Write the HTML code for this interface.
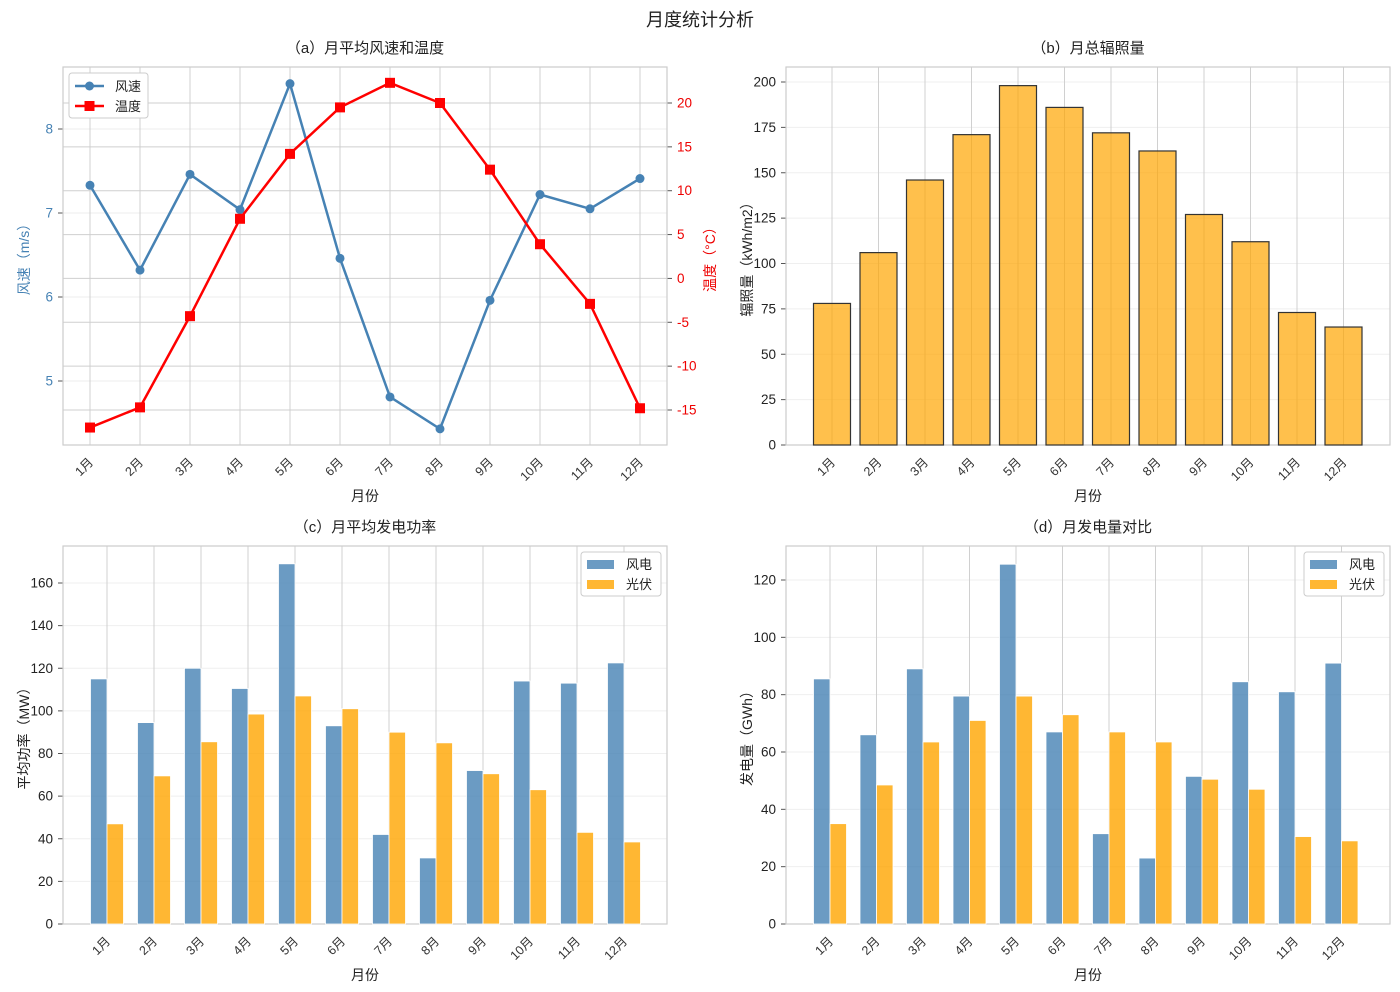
<!DOCTYPE html>
<html><head><meta charset="utf-8"><style>
body{margin:0;background:#fff}
svg{display:block;font-family:"Liberation Sans","Noto Sans CJK SC",sans-serif}
</style></head><body>
<svg id="c" width="1400" height="992" viewBox="0 0 1400 992">
<text x="700" y="26" text-anchor="middle" font-size="18" fill="#222">月度统计分析</text>
</svg>
<script>
const months=['1月','2月','3月','4月','5月','6月','7月','8月','9月','10月','11月','12月'];
const windSpeed=[7.33,6.32,7.46,7.04,8.54,6.46,4.81,4.43,5.96,7.22,7.05,7.41];
const temperature=[-17.0,-14.7,-4.3,6.8,14.2,19.5,22.3,20.0,12.4,3.9,-2.9,-14.8];
const irradiance=[78,106,146,171,198,186,172,162,127,112,73,65];
const windPower=[115,94.5,120,110.5,169,93,42,31,72,114,113,122.5];
const solarPower=[47,69.5,85.5,98.5,107,101,90,85,70.5,63,43,38.5];
const windEnergy=[85.5,66,89,79.5,125.5,67,31.5,23,51.5,84.5,81,91];
const solarEnergy=[35,48.5,63.5,71,79.5,73,67,63.5,50.5,47,30.5,29];
const windTicks=[5,6,7,8];
const tempTicks=[-15,-10,-5,0,5,10,15,20];
const irrTicks=[0,25,50,75,100,125,150,175,200];
const powTicks=[0,20,40,60,80,100,120,140,160];
const engTicks=[0,20,40,60,80,100,120];

const svg=document.getElementById('c');
const NS='http://www.w3.org/2000/svg';
function el(tag,attrs,parent,text){const e=document.createElementNS(NS,tag);for(const k in attrs)e.setAttribute(k,attrs[k]);if(text!==undefined)e.textContent=text;(parent||svg).appendChild(e);return e;}
function linScale(d0,d1,r0,r1){return v=>r0+(v-d0)/(d1-d0)*(r1-r0);}

function panel(p){
  const g=el('g',{});
  
  
  el('rect',{x:p.x0,y:p.y0,width:p.x1-p.x0,height:p.y1-p.y0,fill:'#fff'},g);
  const t=el('text',{x:(p.x0+p.x1)/2,y:p.y0-14,'text-anchor':'middle','font-size':15,fill:'#222'},g,p.title);
  
  
  return g;
}
function xAxis(g,p,xs){
  months.forEach((m,i)=>{
    const x=xs(i);
    el('line',{x1:x,x2:x,y1:p.y0,y2:p.y1,stroke:'#d0d0d0','stroke-width':1},g);
  });
  months.forEach((m,i)=>{
    const x=xs(i);
    const t=el('text',{transform:`translate(${x+4},${p.y1+18}) rotate(-45)`,'text-anchor':'end','font-size':12.5,fill:'#333'},g,m);
    
    
  });
  const xl=el('text',{x:(p.x0+p.x1)/2,y:p.y1+56,'text-anchor':'middle','font-size':14,fill:'#222'},g,'月份');
  
  
}
function yAxis(g,p,ys,ticks,label,color,right,grid){
  ticks.forEach(v=>{
    const y=ys(v);
    if(grid) el('line',{x1:p.x0,x2:p.x1,y1:y,y2:y,stroke:grid,'stroke-width':1},g);
    const tx=right?p.x1:p.x0;
    el('line',{x1:tx,x2:right?tx+5:tx-5,y1:y,y2:y,stroke:'#555'},g);
    const t=el('text',{x:right?tx+10:tx-10,y:y+4.5,'text-anchor':right?'start':'end','font-size':13.5,fill:color},g,String(v));
    
    
  });
  const lx=right?p.x1+48:p.x0-34;
  const yl=el('text',{transform:`translate(${lx},${(p.y0+p.y1)/2}) rotate(-90)`,'text-anchor':'middle','font-size':14,fill:color},g,label);
  
  
}
function frame(g,p){el('rect',{x:p.x0,y:p.y0,width:p.x1-p.x0,height:p.y1-p.y0,fill:'none',stroke:'#ccc','stroke-width':1.2},g);}

{
  const p={x0:63,x1:667,y0:67,y1:445,title:'（a）月平均风速和温度',name:'panel-wind-temp'};
  const g=panel(p);
  const xs=i=>90+i*50;
  const ys=linScale(8,4,129,465);
  const yt=linScale(20,-15,103,410);
  windTicks.forEach(v=>el('line',{x1:p.x0,x2:p.x1,y1:ys(v),y2:ys(v),stroke:'#eee'},g));
  xAxis(g,p,xs);
  yAxis(g,p,ys,windTicks,'风速（m/s）','#4682b4',false,null);
  yAxis(g,p,yt,tempTicks,'温度（°C）','#e00',true,'#cfcfcf');
  frame(g,p);
  const wl=el('polyline',{points:windSpeed.map((v,i)=>xs(i)+','+ys(v)).join(' '),fill:'none',stroke:'#4682b4','stroke-width':2.5},g);
  
  
  windSpeed.forEach((v,i)=>{const c=el('circle',{cx:xs(i),cy:ys(v),r:4.5,fill:'#4682b4'},g);
    
    });
  const tl=el('polyline',{points:temperature.map((v,i)=>xs(i)+','+yt(v)).join(' '),fill:'none',stroke:'#f00','stroke-width':2.5},g);
  
  
  temperature.forEach((v,i)=>{const r=el('rect',{x:xs(i)-5,y:yt(v)-5,width:10,height:10,fill:'#f00'},g);
    
    });
  const lg=el('g',{},g);
  
  
  el('rect',{x:69,y:73,width:79,height:45,rx:3,fill:'#fff',stroke:'#ccc'},lg);
  el('line',{x1:75,x2:104,y1:86,y2:86,stroke:'#4682b4','stroke-width':2.5},lg);
  el('circle',{cx:89.5,cy:86,r:4.5,fill:'#4682b4'},lg);
  el('text',{x:115,y:91,'font-size':13,fill:'#222'},lg,'风速');
  el('line',{x1:75,x2:104,y1:106,y2:106,stroke:'#f00','stroke-width':2.5},lg);
  el('rect',{x:84.5,y:101,width:10,height:10,fill:'#f00'},lg);
  el('text',{x:115,y:111,'font-size':13,fill:'#222'},lg,'温度');
}
{
  const p={x0:786,x1:1390,y0:67,y1:445,title:'（b）月总辐照量',name:'panel-irradiance'};
  const g=panel(p);
  const xs=i=>832+i*46.5;
  const ys=linScale(0,200,445,82);
  yAxis(g,p,ys,irrTicks,'辐照量（kWh/m2）','#222',false,'#efefef');
  xAxis(g,p,xs);
  frame(g,p);
  irradiance.forEach((v,i)=>{const r=el('rect',{x:xs(i)-18.5,y:ys(v),width:37,height:ys(0)-ys(v),fill:'rgba(255,165,0,0.7)',stroke:'#333','stroke-width':1.2},g);
    
    });
}
function groupPanel(p,xs,ys,ticks,ylab,a,b){
  const g=panel(p);
  yAxis(g,p,ys,ticks,ylab,'#222',false,'#efefef');
  xAxis(g,p,xs);
  frame(g,p);
  const w=16.5;
  a.forEach((v,i)=>{const r=el('rect',{x:xs(i)-w,y:ys(v),width:w,height:ys(0)-ys(v),fill:'rgba(70,130,180,0.8)',stroke:'#fff','stroke-width':0.8},g);
    
    });
  b.forEach((v,i)=>{const r=el('rect',{x:xs(i),y:ys(v),width:w,height:ys(0)-ys(v),fill:'rgba(255,165,0,0.8)',stroke:'#fff','stroke-width':0.8},g);
    
    });
  const lx=p.x1-86,ly=p.y0+6;
  const lg=el('g',{},g);
  
  
  el('rect',{x:lx,y:ly,width:80,height:44,rx:3,fill:'#fff',stroke:'#ccc'},lg);
  el('rect',{x:lx+6,y:ly+8,width:27,height:9,fill:'rgba(70,130,180,0.8)'},lg);
  el('text',{x:lx+45,y:ly+17,'font-size':13,fill:'#222'},lg,'风电');
  el('rect',{x:lx+6,y:ly+28,width:27,height:9,fill:'rgba(255,165,0,0.8)'},lg);
  el('text',{x:lx+45,y:ly+37,'font-size':13,fill:'#222'},lg,'光伏');
}
groupPanel({x0:63,x1:667,y0:546,y1:924,title:'（c）月平均发电功率',name:'panel-power'},i=>107+i*47,linScale(0,160,924,583),powTicks,'平均功率（MW）',windPower,solarPower);
groupPanel({x0:786,x1:1390,y0:546,y1:924,title:'（d）月发电量对比',name:'panel-energy'},i=>830+i*46.5,linScale(0,120,924,580),engTicks,'发电量（GWh）',windEnergy,solarEnergy);
</script>
</body></html>
